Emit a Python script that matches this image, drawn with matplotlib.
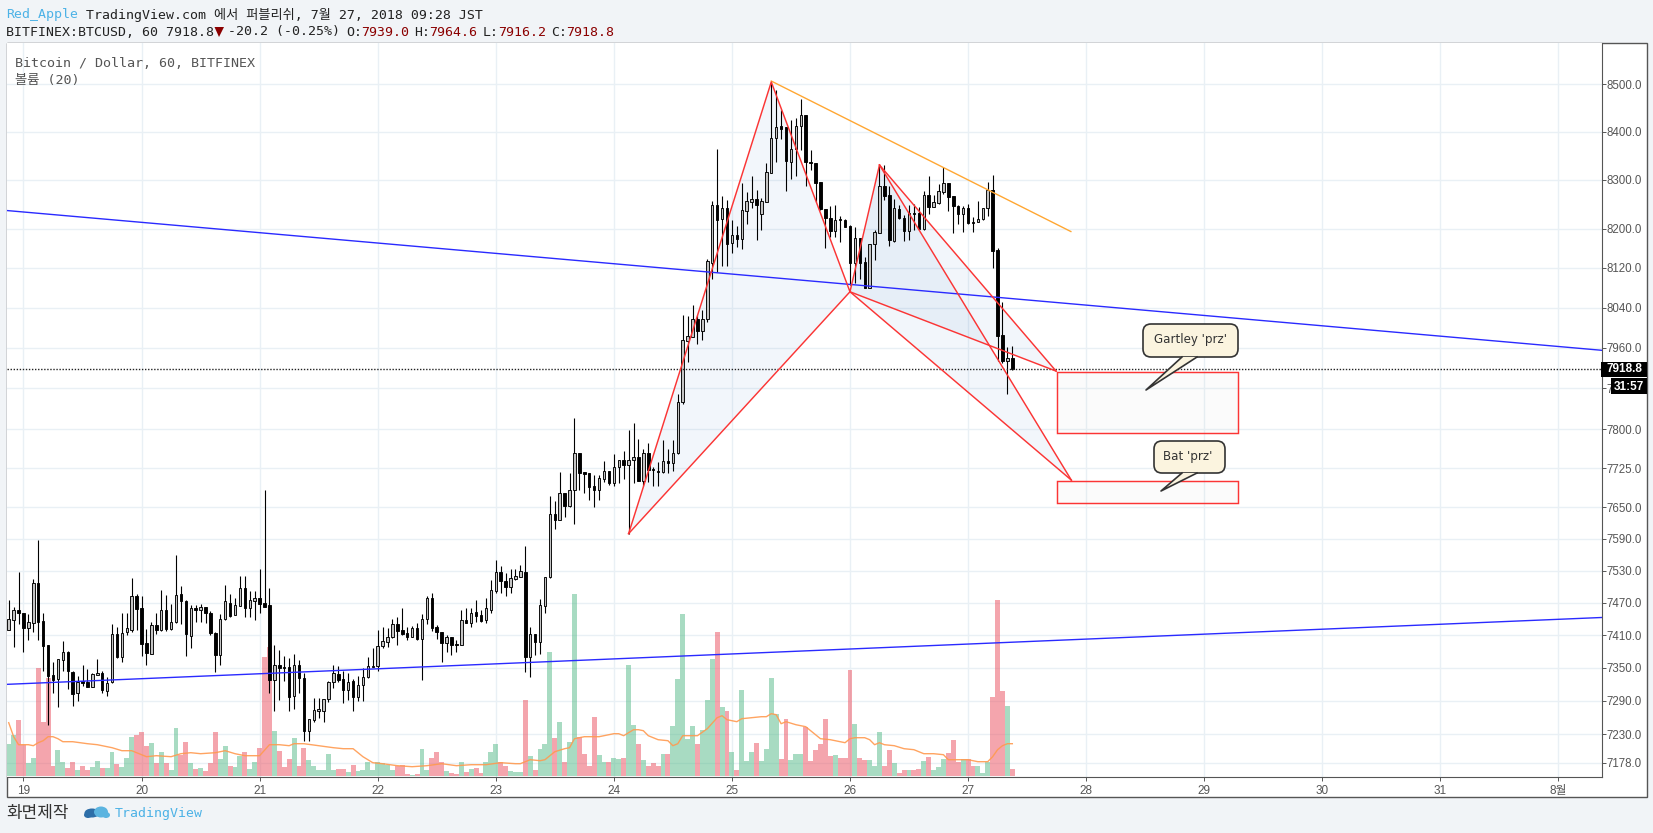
import numpy as np
import matplotlib
matplotlib.use("Agg")
import matplotlib.pyplot as plt
from matplotlib.patches import Rectangle, Polygon, FancyBboxPatch, Ellipse
from matplotlib.ticker import NullLocator
from matplotlib.transforms import Affine2D

ANCHO, ALTO = 1653, 833

# Velas de 1 hora, horas contadas desde el 19 de julio 00:00
horas = list(range(-3, 202))
opens = [7420, 7439, 7456, 7451, 7424, 7433, 7508, 7436, 7392, 7337, 7330, 7365, 7380, 7343, 7304, 7326, 7325, 7316, 7337, 7341,
         7308, 7324, 7413, 7370, 7417, 7420, 7483, 7460, 7396, 7376, 7429, 7420, 7457, 7421, 7435, 7486, 7474, 7409, 7460, 7457,
         7462, 7452, 7415, 7374, 7440, 7470, 7448, 7465, 7497, 7461, 7473, 7480, 7469, 7466, 7328, 7356, 7352, 7351, 7299, 7356,
         7332, 7236, 7255, 7272, 7272, 7293, 7324, 7339, 7330, 7310, 7327, 7297, 7319, 7333, 7351, 7353, 7390, 7398, 7406, 7430,
         7420, 7415, 7407, 7423, 7403, 7440, 7479, 7425, 7417, 7395, 7407, 7394, 7393, 7439, 7433, 7454, 7448, 7438, 7457, 7493,
         7527, 7510, 7500, 7515, 7519, 7528, 7370, 7412, 7398, 7465, 7518, 7637, 7626, 7677, 7652, 7683, 7755, 7717, 7715, 7691,
         7683, 7704, 7720, 7696, 7727, 7740, 7731, 7740, 7747, 7701, 7755, 7724, 7720, 7717, 7738, 7735, 7754, 7854, 7974, 7981,
         8018, 7993, 8017, 8131, 8248, 8219, 8243, 8170, 8186, 8178, 8237, 8255, 8260, 8229, 8255, 8315, 8387, 8413, 8410, 8338,
         8365, 8412, 8435, 8338, 8336, 8295, 8241, 8222, 8195, 8219, 8217, 8205, 8130, 8180, 8132, 8080, 8168, 8191, 8288, 8268,
         8175, 8241, 8222, 8195, 8231, 8231, 8199, 8269, 8245, 8252, 8276, 8293, 8267, 8246, 8229, 8243, 8214, 8213, 8219, 8243,
         8279, 8156, 7985, 7933, 7939]
highs = [7475, 7462, 7528, 7452, 7450, 7514, 7588, 7451, 7393, 7360, 7367, 7399, 7381, 7344, 7336, 7355, 7348, 7340, 7367, 7345,
         7333, 7430, 7426, 7451, 7451, 7516, 7486, 7483, 7421, 7434, 7452, 7494, 7485, 7468, 7560, 7501, 7475, 7466, 7466, 7468,
         7463, 7455, 7417, 7449, 7503, 7487, 7479, 7520, 7520, 7493, 7493, 7534, 7684, 7497, 7393, 7382, 7371, 7368, 7375, 7364,
         7340, 7257, 7296, 7296, 7294, 7327, 7356, 7353, 7344, 7340, 7330, 7336, 7350, 7370, 7386, 7420, 7425, 7423, 7440, 7444,
         7460, 7426, 7427, 7432, 7449, 7482, 7488, 7429, 7417, 7410, 7407, 7402, 7457, 7460, 7460, 7475, 7457, 7480, 7513, 7550,
         7539, 7525, 7534, 7534, 7540, 7576, 7425, 7412, 7477, 7519, 7672, 7662, 7717, 7678, 7715, 7822, 7755, 7717, 7716, 7712,
         7712, 7738, 7720, 7753, 7741, 7759, 7799, 7813, 7781, 7762, 7773, 7728, 7736, 7780, 7762, 7780, 7870, 8025, 8023, 8045,
         8025, 8035, 8139, 8257, 8364, 8267, 8258, 8217, 8205, 8293, 8276, 8309, 8280, 8262, 8336, 8505, 8488, 8446, 8410, 8425,
         8430, 8470, 8435, 8363, 8336, 8295, 8241, 8246, 8248, 8226, 8220, 8207, 8204, 8180, 8142, 8168, 8197, 8330, 8330, 8288,
         8260, 8248, 8227, 8248, 8250, 8245, 8277, 8309, 8269, 8291, 8326, 8293, 8267, 8248, 8246, 8250, 8224, 8256, 8243, 8296,
         8310, 8161, 8052, 7962, 7964.6]
lows = [7420, 7389, 7431, 7379, 7401, 7417, 7401, 7345, 7246, 7305, 7278, 7345, 7311, 7280, 7289, 7317, 7316, 7316, 7337, 7305,
        7299, 7323, 7369, 7361, 7410, 7417, 7420, 7372, 7355, 7375, 7412, 7418, 7418, 7420, 7433, 7431, 7371, 7387, 7435, 7435,
        7432, 7410, 7342, 7356, 7439, 7443, 7447, 7464, 7444, 7444, 7438, 7451, 7463, 7305, 7272, 7292, 7327, 7271, 7276, 7305,
        7218, 7218, 7251, 7258, 7252, 7288, 7314, 7324, 7286, 7292, 7271, 7289, 7289, 7332, 7351, 7345, 7386, 7389, 7405, 7392,
        7410, 7401, 7406, 7402, 7328, 7430, 7418, 7404, 7361, 7379, 7373, 7379, 7392, 7432, 7425, 7435, 7435, 7432, 7452, 7488,
        7488, 7482, 7488, 7513, 7518, 7343, 7333, 7373, 7376, 7452, 7516, 7608, 7625, 7632, 7650, 7619, 7683, 7677, 7664, 7650,
        7664, 7699, 7693, 7690, 7696, 7704, 7600, 7696, 7701, 7691, 7699, 7690, 7691, 7715, 7715, 7719, 7753, 7849, 7932, 7981,
        7968, 7976, 8011, 8098, 8111, 8124, 8124, 8150, 8163, 8159, 8210, 8243, 8176, 8197, 8254, 8314, 8338, 8386, 8278, 8302,
        8309, 8363, 8288, 8320, 8255, 8238, 8160, 8183, 8183, 8173, 8203, 8085, 8090, 8098, 8080, 8080, 8136, 8190, 8258, 8164,
        8173, 8220, 8175, 8176, 8197, 8198, 8198, 8230, 8244, 8251, 8272, 8236, 8190, 8210, 8193, 8210, 8193, 8213, 8217, 8226,
        8120, 7933, 7930, 7870, 7916.2]
closes = [7441, 7457, 7451, 7424, 7434, 7508, 7435, 7390, 7336, 7328, 7367, 7380, 7344, 7303, 7325, 7323, 7316, 7338, 7341, 7309,
          7323, 7412, 7370, 7415, 7423, 7482, 7459, 7394, 7378, 7429, 7420, 7457, 7421, 7435, 7484, 7474, 7412, 7460, 7457, 7462,
          7451, 7415, 7374, 7441, 7474, 7446, 7466, 7497, 7461, 7475, 7480, 7468, 7463, 7328, 7356, 7350, 7350, 7297, 7356, 7331,
          7236, 7257, 7274, 7275, 7294, 7325, 7341, 7328, 7310, 7325, 7297, 7319, 7334, 7353, 7353, 7390, 7399, 7406, 7430, 7418,
          7413, 7407, 7424, 7403, 7440, 7479, 7423, 7417, 7395, 7407, 7393, 7393, 7439, 7433, 7452, 7446, 7437, 7460, 7494, 7527,
          7510, 7500, 7516, 7520, 7529, 7370, 7412, 7398, 7466, 7519, 7637, 7626, 7677, 7652, 7684, 7754, 7715, 7714, 7689, 7683,
          7706, 7719, 7696, 7727, 7741, 7731, 7740, 7747, 7701, 7754, 7722, 7722, 7717, 7738, 7735, 7754, 7854, 7975, 7983, 8018,
          7993, 8018, 8134, 8248, 8217, 8243, 8169, 8186, 8178, 8238, 8256, 8260, 8248, 8256, 8316, 8387, 8410, 8405, 8340, 8365,
          8413, 8436, 8337, 8335, 8293, 8240, 8221, 8195, 8217, 8217, 8203, 8130, 8180, 8130, 8080, 8168, 8193, 8288, 8266, 8176,
          8243, 8222, 8195, 8231, 8230, 8199, 8269, 8245, 8254, 8277, 8293, 8265, 8246, 8229, 8243, 8212, 8212, 8219, 8243, 8279,
          8155, 7984, 7934, 7940, 7918.8]
volumenes = [32, 41, 56, 31, 13, 18, 108, 54, 98, 10, 26, 14, 8, 14, 6, 10, 6, 9, 15, 8,
             8, 24, 12, 9, 18, 39, 41, 44, 30, 33, 13, 24, 13, 6, 48, 21, 34, 13, 7, 8,
             5, 13, 44, 17, 30, 10, 9, 20, 24, 7, 14, 28, 119, 129, 45, 25, 9, 17, 38, 10,
             28, 16, 10, 6, 6, 22, 6, 7, 7, 4, 11, 5, 6, 14, 6, 14, 13, 11, 6, 10,
             11, 2, 1, 2, 27, 6, 18, 24, 14, 5, 3, 2, 14, 4, 7, 8, 3, 14, 24, 32,
             14, 10, 5, 4, 4, 76, 20, 6, 27, 32, 124, 38, 54, 14, 34, 182, 39, 22, 10, 59,
             21, 14, 14, 18, 17, 18, 111, 51, 32, 16, 10, 13, 10, 22, 22, 50, 97, 162, 37, 50,
             32, 46, 76, 117, 144, 69, 65, 24, 6, 86, 15, 24, 33, 15, 27, 98, 62, 17, 57, 16,
             22, 22, 49, 15, 26, 32, 57, 20, 21, 18, 18, 106, 52, 18, 16, 16, 10, 44, 10, 26,
             13, 3, 6, 6, 6, 7, 15, 19, 6, 9, 17, 23, 36, 14, 17, 17, 10, 10, 3, 14,
             79, 176, 85, 70, 7]

ma_horas = [-3, -2, -1, 0, 1, 2, 3, 4, 5, 6, 7, 8, 10, 13, 15, 18, 20, 22, 23, 25, 27, 30, 32, 34, 36, 39, 41, 43, 45, 48,
            50, 52, 54, 55, 56, 57, 60, 63, 65, 67, 69, 71, 73, 76, 79, 82, 85, 88, 91, 94, 97, 100, 101, 103, 105, 106, 108, 110,
            111, 112, 114, 117, 120, 121, 122, 124, 125, 126, 127, 129, 131, 132, 133, 134, 136, 137, 139, 141, 142, 143, 145,
            146, 148, 150, 151, 152, 153, 154, 155, 157, 159, 160, 162, 164, 166, 167, 168, 169, 171, 172, 173, 174, 175, 177,
            179, 181, 183, 185, 187, 188, 190, 192, 194, 195, 196, 197, 198, 199, 200, 201]
ma_valores = [53, 39, 31, 31, 31, 30, 33, 35, 39, 39, 37, 34, 34, 32, 31, 28, 25, 25, 23, 19, 20, 19, 22, 23, 22, 23, 25, 22, 20, 20,
              31, 31, 30, 32, 32, 32, 30, 28, 27, 27, 19, 13, 12, 10, 9, 10, 12, 10, 11, 11, 13, 12, 12, 16, 15, 16, 24, 27,
              28, 37, 39, 39, 42, 42, 40, 46, 46, 45, 40, 36, 35, 30, 32, 40, 40, 40, 47, 58, 60, 56, 54,
              57, 58, 59, 59, 62, 61, 52, 54, 51, 49, 45, 37, 36, 34, 33, 37, 38, 38, 36, 31, 33, 31, 30,
              27, 26, 22, 22, 21, 16, 16, 16, 14, 14, 14, 19, 26, 30, 32, 32]

# Líneas de tendencia y patrones (hora, precio)
azul1_x, azul1_y = [-3.4, 321], [8237, 7955]
azul2_x, azul2_y = [-3.4, 321], [7320, 7443]
naranja_x, naranja_y = [152, 212.9], [8507, 8194]
xabc_x = [123, 152, 168, 174]
xabc_y = [7600, 8505, 8072, 8331]
gartley_d = (209.9, 7914)
bat_d = (213, 7702)
zona_gartley = (210, 246.8, 7792, 7912)
zona_bat = (210, 246.8, 7658, 7700)

ticks_precio = [8500, 8400, 8300, 8200, 8120, 8040, 7960, 7880, 7800, 7725, 7650, 7590, 7530, 7470, 7410, 7350, 7290, 7230, 7178]
ticks_dias = [19, 20, 21, 22, 23, 24, 25, 26, 27, 28, 29, 30, 31, 32]
etiquetas_dias = ["19", "20", "21", "22", "23", "24", "25", "26", "27", "28", "29", "30", "31", "8월"]
ultimo_precio = 7918.8

# Geometría en píxeles
IZQ, DER, ARR, ABA = 6.7, 1601.7, 43, 777
BORDE_DER, BORDE_ABA = 1647, 797

COLOR_FONDO = "#f1f4f7"
COLOR_GRID = "#e9f0f5"
COLOR_ROJO = "#fb3535"
COLOR_TEXTO = "#555555"
MONO = ["DejaVu Sans Mono", "Noto Sans CJK KR"]
SANS = ["Liberation Sans", "DejaVu Sans"]


def crear_ejes(fig, pos, fondo):
    ax = fig.add_axes(pos, facecolor=fondo)
    ax.set_xlim(-3.41, 320.8)
    ax.set_xticks([])
    ax.set_yticks([])
    for s in ax.spines.values():
        s.set_visible(False)
    return ax


def eje_precio(ax):
    ax.set_yscale("log")
    ax.set_ylim(7153, 8588)
    ax.yaxis.set_minor_locator(NullLocator())


def dibujar_callout(ax, px, izq, der, arr, aba, base, punta, texto, tx, ty):
    caja = FancyBboxPatch((izq + 5, arr + 5), der - izq - 10, aba - arr - 10, boxstyle="round,pad=5,rounding_size=8",
                          transform=px, fc="#fbf4df", ec="#333333", lw=1.2, zorder=8)
    ax.add_patch(caja)
    ax.add_patch(Polygon([(base[0], aba), (base[1], aba), punta], transform=px, fc="#fbf4df", ec="none", zorder=9, clip_on=False))
    ax.plot([base[0], punta[0], base[1]], [aba, punta[1], aba], transform=px, color="#333333", lw=1.2, zorder=9)
    ax.text(tx, ty, texto, transform=px, ha="center", va="center", fontsize=8.6, color="#333333",
            family="DejaVu Sans", zorder=10)


def graficar():
    fig = plt.figure(figsize=(ANCHO / 100, ALTO / 100), dpi=100, facecolor=COLOR_FONDO)
    px = Affine2D().scale(1, -1).translate(0, ALTO)
    pos = [IZQ / ANCHO, 1 - ABA / ALTO, (DER - IZQ) / ANCHO, (ABA - ARR) / ALTO]

    # Marco exterior
    fig.add_artist(Rectangle((IZQ, ARR), BORDE_DER - IZQ, BORDE_ABA - ARR, transform=px, fc="white", ec="#555555", lw=1.0))

    # Rejilla y rellenos debajo del volumen
    ax_base = crear_ejes(fig, pos, "white")
    ax_base.set_zorder(1)
    eje_precio(ax_base)
    for p in ticks_precio:
        ax_base.axhline(p, color=COLOR_GRID, lw=1.0, zorder=1)
    for d in ticks_dias:
        ax_base.axvline((d - 19) * 24, color=COLOR_GRID, lw=1.0, zorder=1)
    xs, ys = xabc_x, xabc_y
    for tri in ([(xs[0], ys[0]), (xs[1], ys[1]), (xs[2], ys[2])],
                [(xs[2], ys[2]), (xs[3], ys[3]), gartley_d],
                [(xs[2], ys[2]), (xs[3], ys[3]), bat_d]):
        ax_base.add_patch(Polygon(tri, fc="#2f6fc0", alpha=0.06, ec="none", zorder=2))
    for z in (zona_gartley, zona_bat):
        ax_base.add_patch(Rectangle((z[0], z[2]), z[1] - z[0], z[3] - z[2], fc="#9e9e9e", alpha=0.035, ec="none", zorder=2))

    # Volumen
    ax_vol = crear_ejes(fig, pos, "none")
    ax_vol.set_zorder(2)
    ax_vol.set_ylim(-1.3, 732.7)
    sube = np.array(closes) >= np.array(opens)
    colores_vol = ["#53b987" if s else "#eb4d5c" for s in sube]
    ax_vol.bar(horas, volumenes, width=1.0, color=colores_vol, alpha=0.5, linewidth=0)
    ax_vol.plot(ma_horas, ma_valores, color="#ff9a50", lw=1.0, alpha=0.9)

    # Velas
    ax = crear_ejes(fig, pos, "none")
    ax.set_zorder(3)
    eje_precio(ax)
    ax.vlines(horas, lows, highs, color="black", lw=0.8, zorder=3)
    alto = np.abs(np.array(closes, dtype=float) - np.array(opens, dtype=float))
    base = np.minimum(opens, closes)
    ax.bar(horas, alto, bottom=base, width=0.5, color=["#c4c4c4" if s else "#000000" for s in sube],
           edgecolor="black", linewidth=0.65, zorder=4)

    # Línea del último precio
    ax.axhline(ultimo_precio, color="#222222", lw=1.0, ls=(0, (1, 1.2)), zorder=5)

    # Tendencias
    ax.plot(azul1_x, azul1_y, color="#2a2aff", lw=1.0, zorder=6)
    ax.plot(azul2_x, azul2_y, color="#2a2aff", lw=1.0, zorder=6)
    ax.plot(naranja_x, naranja_y, color="#ffa733", lw=1.0, zorder=6)

    # Patrones XABCD
    ax.plot(xs, ys, color=COLOR_ROJO, lw=1.05, zorder=7)
    ax.plot([xs[0], xs[2]], [ys[0], ys[2]], color=COLOR_ROJO, lw=1.05, zorder=7)
    for d in (gartley_d, bat_d):
        ax.plot([xs[3], d[0]], [ys[3], d[1]], color=COLOR_ROJO, lw=1.05, zorder=7)
        ax.plot([xs[2], d[0]], [ys[2], d[1]], color=COLOR_ROJO, lw=1.05, zorder=7)
    for z in (zona_gartley, zona_bat):
        ax.add_patch(Rectangle((z[0], z[2]), z[1] - z[0], z[3] - z[2], fc="none", ec=COLOR_ROJO, lw=1.05, zorder=7))

    dibujar_callout(ax, px, 1143, 1238, 324, 357, (1182, 1197), (1146, 390), "Gartley 'prz'", 1190, 339.5)
    dibujar_callout(ax, px, 1154, 1225, 441, 473, (1182, 1197), (1161, 491), "Bat 'prz'", 1188, 456.5)

    # Ejes de precio y tiempo
    ax.spines["right"].set_visible(True)
    ax.spines["bottom"].set_visible(True)
    ax.spines["right"].set_color("#555555")
    ax.spines["bottom"].set_color("#555555")
    ax.yaxis.tick_right()
    ax.set_yticks(ticks_precio)
    ax.set_yticklabels([f"{p:.1f}" for p in ticks_precio], fontsize=8.3, color=COLOR_TEXTO, family=SANS)
    ax.set_xticks([(d - 19) * 24 for d in ticks_dias])
    ax.set_xticklabels(etiquetas_dias, fontsize=8.5, color=COLOR_TEXTO, family=["Liberation Sans", "Noto Sans CJK KR"])
    ax.tick_params(axis="x", length=3, width=0.7, color="#555555", pad=3)
    ax.tick_params(axis="y", length=3, width=0.7, color="#555555", pad=0.5)

    # Etiquetas negras del último precio
    fig.add_artist(Rectangle((1601, 361.7), 45.7, 15, transform=px, fc="black", ec="none", zorder=20))
    fig.add_artist(Rectangle((1611, 378), 35.7, 16.3, transform=px, fc="black", ec="none", zorder=20))
    fig.text(1624.5, 369.5, f"{ultimo_precio:.1f}", transform=px, color="white", fontsize=8.5, fontweight="bold", family=SANS,
             ha="center", va="center", zorder=21)
    fig.text(1629, 386.5, "31:57", transform=px, color="white", fontsize=8.5, fontweight="bold", family=SANS,
             ha="center", va="center", zorder=21)

    # Cabecera
    def txt(x, y, s, color="#222222", size=9.5, familia=MONO):
        fig.text(x, y, s, transform=px, color=color, fontsize=size, family=familia, ha="left", va="center", zorder=21)

    rojo_oscuro = "#8b0000"
    txt(6, 14.5, "Red_Apple", color="#4db2e6")
    txt(86, 14.5, "TradingView.com 에서 퍼블리쉬, 7월 27, 2018 09:28 JST")
    txt(6, 32, "BITFINEX:BTCUSD, 60 7918.8")
    fig.add_artist(Polygon([(214.5, 27), (224, 27), (219, 37)], transform=px, fc=rojo_oscuro, ec="none"))
    txt(228, 32, "-20.2 (-0.25%)")
    for x, etiqueta, valor in [(346, "O:", "7939.0"), (414, "H:", "7964.6"), (482.7, "L:", "7916.2"), (551, "C:", "7918.8")]:
        txt(x, 32, etiqueta)
        txt(x + 15.5, 32, valor, color=rojo_oscuro)

    txt(14.8, 63.5, "Bitcoin / Dollar, 60, BITFINEX", color=COLOR_TEXTO, size=9.6)
    txt(14.8, 80.5, "볼륨 (20)", color=COLOR_TEXTO, size=9.6)

    # Pie
    txt(6, 813, "화면제작", color="#333333", size=12.2, familia=["Noto Sans CJK KR"])
    for cx, cy, w, h, c in [(92, 813, 15, 9, "#2d6ea8"), (88, 815, 8, 6, "#2d6ea8"), (101, 812, 14, 11, "#5bb4e0"), (106, 815, 8, 6, "#5bb4e0")]:
        fig.add_artist(Ellipse((cx, cy), w, h, transform=px, fc=c, ec="none"))
    txt(115, 813, "TradingView", color="#4db2e6", size=9.5)

    fig.savefig("out.png", dpi=100, facecolor=fig.get_facecolor())


if __name__ == "__main__":
    graficar()
